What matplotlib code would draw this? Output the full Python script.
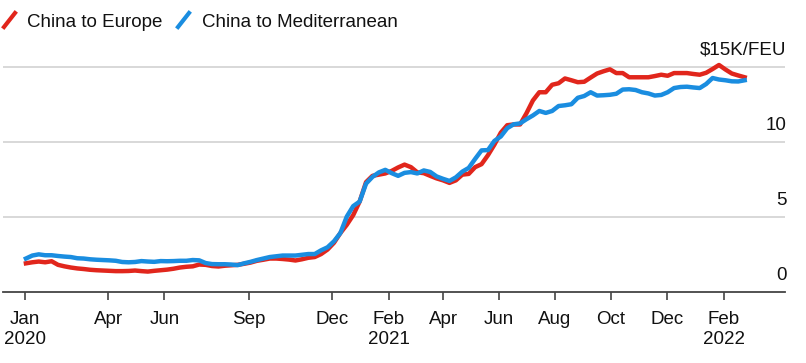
import pandas as pd
import matplotlib
matplotlib.use("Agg")
from matplotlib import pyplot as plt
from matplotlib.lines import Line2D

# weekly container rates, $K per FEU
dates = pd.date_range("2020-01-02", periods=113, freq="7D")

europe = [
    1.88, 1.95, 2.00, 1.95, 2.02, 1.78, 1.68, 1.60, 1.54, 1.50,
    1.45, 1.42, 1.40, 1.38, 1.36, 1.36, 1.37, 1.40, 1.36, 1.33,
    1.38, 1.42, 1.46, 1.52, 1.60, 1.65, 1.68, 1.80, 1.78, 1.70,
    1.67, 1.72, 1.75, 1.78, 1.85, 1.93, 2.05, 2.12, 2.20, 2.20,
    2.17, 2.13, 2.07, 2.15, 2.25, 2.30, 2.50, 2.80, 3.25, 3.90,
    4.45, 5.10, 6.00, 7.30, 7.72, 7.80, 7.88, 8.05, 8.28, 8.47,
    8.30, 7.95, 7.90, 7.72, 7.55, 7.42, 7.25, 7.42, 7.80, 7.85,
    8.30, 8.50, 9.10, 9.80, 10.60, 11.10, 11.15, 11.15, 11.90, 12.75,
    13.30, 13.30, 13.80, 13.90, 14.22, 14.10, 13.97, 14.00, 14.28, 14.55,
    14.70, 14.83, 14.58, 14.58, 14.30, 14.30, 14.30, 14.30, 14.38, 14.47,
    14.40, 14.58, 14.58, 14.58, 14.52, 14.47, 14.60, 14.85, 15.12, 14.82,
    14.55, 14.42, 14.30,
]

mediterranean = [
    2.20, 2.40, 2.48, 2.42, 2.42, 2.37, 2.33, 2.30, 2.22, 2.20,
    2.15, 2.12, 2.10, 2.08, 2.05, 1.97, 1.95, 1.97, 2.03, 2.00,
    1.98, 2.03, 2.02, 2.03, 2.05, 2.05, 2.10, 2.08, 1.90, 1.83,
    1.82, 1.82, 1.80, 1.76, 1.88, 1.98, 2.10, 2.20, 2.30, 2.35,
    2.40, 2.40, 2.40, 2.45, 2.50, 2.50, 2.75, 2.95, 3.35, 3.90,
    5.00, 5.70, 6.00, 7.20, 7.65, 7.95, 8.12, 7.90, 7.72, 7.92,
    7.97, 7.88, 8.08, 7.98, 7.68, 7.52, 7.38, 7.62, 8.00, 8.25,
    8.85, 9.42, 9.44, 10.05, 10.35, 10.90, 11.16, 11.22, 11.50, 11.75,
    12.05, 11.92, 12.05, 12.38, 12.43, 12.50, 12.93, 13.05, 13.30, 13.08,
    13.10, 13.13, 13.20, 13.48, 13.50, 13.45, 13.30, 13.22, 13.08, 13.12,
    13.30, 13.58, 13.65, 13.67, 13.62, 13.58, 13.85, 14.25, 14.15, 14.10,
    14.03, 14.02, 14.10,
]

tick_dates = ["2020-01-01", "2020-04-01", "2020-06-01", "2020-09-01", "2020-12-01",
              "2021-02-01", "2021-04-01", "2021-06-01", "2021-08-01", "2021-10-01",
              "2021-12-01", "2022-02-01"]
tick_labels = ["Jan\n2020", "Apr", "Jun", "Sep", "Dec", "Feb\n2021",
               "Apr", "Jun", "Aug", "Oct", "Dec", "Feb\n2022"]

y_levels = [0, 5, 10, 15]
y_labels = ["0", "5", "10", "$15K/FEU"]

RED = "#e1261c"
BLUE = "#1a8de0"
FS = 13.5

plt.rcParams["font.family"] = ["Liberation Sans", "DejaVu Sans"]

fig = plt.figure(figsize=(8.06, 3.63), dpi=100)
ax = fig.add_axes([3 / 806, 71.5 / 363, 782 / 806, 239.7 / 363])

for lv in y_levels[1:]:
    ax.axhline(lv, color="#d6d6d6", lw=1.3, zorder=1)

ax.plot(dates, europe, color=RED, lw=3.2, solid_joinstyle="round", zorder=3)
ax.plot(dates, mediterranean, color=BLUE, lw=3.2, solid_joinstyle="round", zorder=4)

ax.set_ylim(0, 16)
ax.set_xlim(pd.Timestamp("2019-12-08"), pd.Timestamp("2022-04-09"))

for lv, lab in zip(y_levels, y_labels):
    ax.annotate(lab, xy=(1.0, lv), xycoords=ax.get_yaxis_transform(),
                xytext=(1, 8.5), textcoords="offset points",
                ha="right", va="baseline", fontsize=FS, color="#111111")

ax.set_yticks([])
ax.set_xticks(pd.to_datetime(tick_dates))
ax.set_xticklabels(tick_labels)
ax.tick_params(axis="x", direction="out", length=5.5, width=1.2, color="#444444",
               pad=8.5, labelsize=FS, labelcolor="#111111")
for lab in ax.get_xticklabels():
    lab.set_linespacing(1.22)

for s in ["top", "left", "right"]:
    ax.spines[s].set_visible(False)
ax.spines["bottom"].set_color("#444444")
ax.spines["bottom"].set_linewidth(1.3)
ax.patch.set_visible(False)

# legend drawn as short slashes + labels
fig.add_artist(Line2D([4 / 806, 15 / 806], [1 - 27 / 363, 1 - 13 / 363],
                      color=RED, lw=3, transform=fig.transFigure))
fig.text(27 / 806, 1 - 27 / 363, "China to Europe", fontsize=FS,
         va="baseline", color="#111111")
fig.add_artist(Line2D([178 / 806, 189 / 806], [1 - 27 / 363, 1 - 13 / 363],
                      color=BLUE, lw=3, transform=fig.transFigure))
fig.text(202 / 806, 1 - 27 / 363, "China to Mediterranean", fontsize=FS,
         va="baseline", color="#111111")

fig.savefig("out.png", dpi=100)
